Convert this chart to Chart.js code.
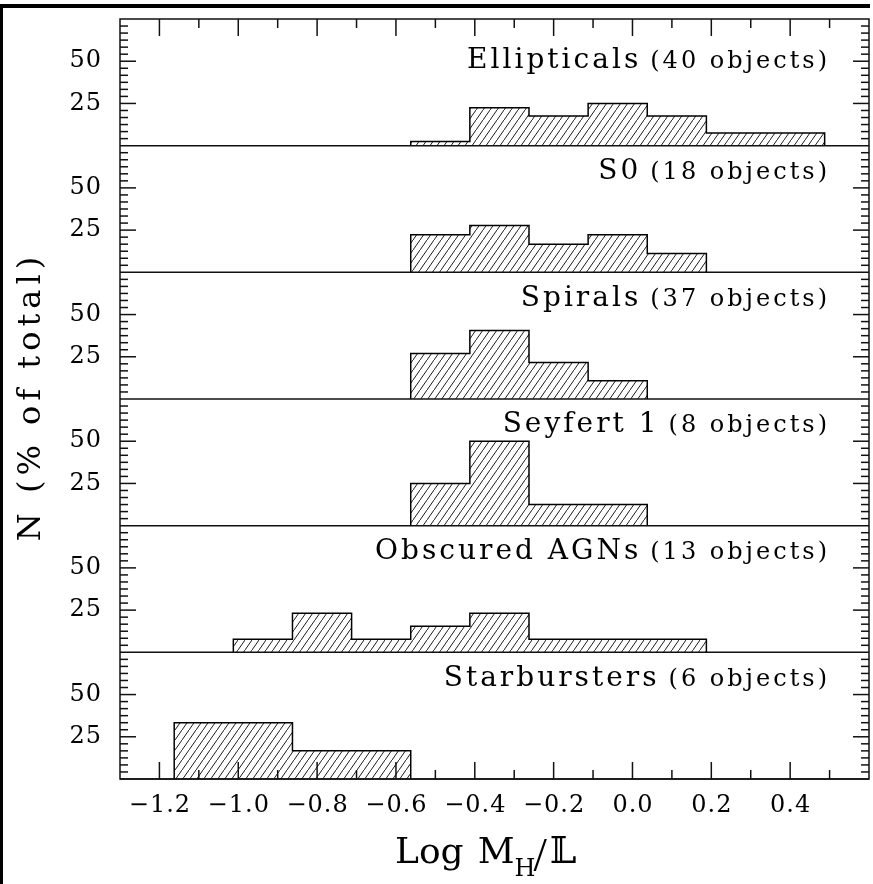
<!DOCTYPE html>
<html>
<head>
<meta charset="utf-8">
<title>M/L histograms</title>
<script src="https://cdn.jsdelivr.net/npm/chart.js@4.4.1/dist/chart.umd.min.js"></script>
<style>
  html, body { margin: 0; padding: 0; background: #fff; }
  canvas { display: block; }
</style>
</head>
<body>
<canvas id="chart-ml" width="873" height="884"></canvas>
<script>
//BIN EDGES IN LOG M_H/L (0.15 WIDE)
var binEdges = [-1.1625, -1.0125, -0.8625, -0.7125, -0.5625, -0.4125, -0.2625, -0.1125, 0.0375, 0.1875, 0.3375, 0.4875];

//PANELS, TOP TO BOTTOM
var panelNames = ["Ellipticals", "S0", "Spirals", "Seyfert 1", "Obscured AGNs", "Starbursters"];
var panelCounts = [40, 18, 37, 8, 13, 6];

//PERCENT OF EACH SAMPLE PER BIN
var ellipticals = [0, 0, 0, 0, 2.5, 22.5, 17.5, 25, 17.5, 7.5, 7.5];
var s0 = [0, 0, 0, 0, 22.2, 27.8, 16.7, 22.2, 11.1, 0, 0];
var spirals = [0, 0, 0, 0, 27.0, 40.5, 21.6, 10.8, 0, 0, 0];
var seyfert1 = [0, 0, 0, 0, 25, 50, 12.5, 12.5, 0, 0, 0];
var obscured = [0, 7.7, 23.1, 7.7, 15.4, 23.1, 7.7, 7.7, 7.7, 0, 0];
var starbursters = [33.3, 33.3, 16.7, 16.7, 0, 0, 0, 0, 0, 0, 0];

//TICKS
var xTickLabels = [-1.2, -1.0, -0.8, -0.6, -0.4, -0.2, 0.0, 0.2, 0.4];
var yTickLabels = [25, 50];

var panelData = [ellipticals, s0, spirals, seyfert1, obscured, starbursters];

//step outline of one histogram, from the first to the last filled bin
function outline(values) {
  var first = values.findIndex(function (v) { return v > 0; });
  var last = values.length - 1;
  while (values[last] <= 0) last--;
  var pts = [{ x: binEdges[first], y: 0 }];
  for (var i = first; i <= last; i++) {
    pts.push({ x: binEdges[i], y: values[i] });
    pts.push({ x: binEdges[i + 1], y: values[i] });
  }
  pts.push({ x: binEdges[last + 1], y: 0 });
  return pts;
}

//diagonal hatching for the bins
function makeHatch(ctx) {
  var w = 7, h = 10;
  var tile = document.createElement("canvas");
  tile.width = w;
  tile.height = h;
  var g = tile.getContext("2d");
  g.strokeStyle = "#1c1c1c";
  g.lineWidth = 1;
  [[0, 0], [-w, h], [w, -h]].forEach(function (o) {
    g.beginPath();
    g.moveTo(o[0], o[1] + h);
    g.lineTo(o[0] + w, o[1]);
    g.stroke();
  });
  return ctx.createPattern(tile, "repeat");
}

function fmtTick(v) {
  return (v < 0 ? "\u2212" : "") + Math.abs(v).toFixed(1);
}

//draws text with extra letter spacing, returns its width
function spaced(c, text, x, y, sp, align) {
  c.letterSpacing = "0px";
  var w = c.measureText(text).width + sp * (text.length - 1);
  var x0 = align === "right" ? x - w : align === "center" ? x - w / 2 : x;
  c.textAlign = "left";
  c.letterSpacing = sp + "px";
  c.fillText(text, x0, y);
  c.letterSpacing = "0px";
  return w;
}

//FRAME, TICKS AND LABELS (drawn over the bins)
var frameAxes = {
  id: "frameAxes",
  afterDatasetsDraw: function (chart) {
    var c = chart.ctx, a = chart.chartArea, xs = chart.scales.x;
    c.save();

    //figure border, top and left
    c.fillStyle = "#000";
    c.fillRect(0, 4, 870, 4);
    c.fillRect(0, 4, 3, 880);

    c.strokeStyle = "#111";
    c.lineWidth = 1.5;
    function seg(x1, y1, x2, y2) {
      c.beginPath();
      c.moveTo(x1, y1);
      c.lineTo(x2, y2);
      c.stroke();
    }
    c.strokeRect(a.left, a.top, a.right - a.left, a.bottom - a.top);

    //x ticks on the top and bottom edges
    xTickLabels.forEach(function (v) {
      var px = xs.getPixelForValue(v);
      seg(px, a.bottom, px, a.bottom - 17);
      seg(px, a.top, px, a.top + 17);
      var pm = xs.getPixelForValue(v + 0.1);
      seg(pm, a.bottom, pm, a.bottom - 9);
      seg(pm, a.top, pm, a.top + 9);
    });

    c.fillStyle = "#000";
    c.font = "24px 'DejaVu Serif'";
    c.textBaseline = "alphabetic";
    xTickLabels.forEach(function (v) {
      spaced(c, fmtTick(v), xs.getPixelForValue(v), a.bottom + 33, 1, "center");
    });

    //each panel: baseline, y ticks (six per 25), labels, title
    panelNames.forEach(function (name, p) {
      var ys = chart.scales["y" + p];
      seg(a.left, ys.getPixelForValue(0), a.right, ys.getPixelForValue(0));
      for (var k = 1; k < 18; k++) {
        var py = ys.getPixelForValue(k * 25 / 6);
        var len = k % 6 === 0 ? 16 : 8;
        seg(a.left, py, a.left + len, py);
        seg(a.right, py, a.right - len, py);
      }

      c.font = "24px 'DejaVu Serif'";
      c.textBaseline = "middle";
      yTickLabels.forEach(function (v) {
        spaced(c, String(v), a.left - 19, ys.getPixelForValue(v), 1, "right");
      });

      c.textBaseline = "alphabetic";
      var ty = p === 0 ? ys.getPixelForValue(50) + 7 : ys.getPixelForValue(50) - 9;
      c.font = "24px 'DejaVu Serif'";
      var w2 = spaced(c, "(" + panelCounts[p] + " objects)", a.right - 42, ty, 3, "right");
      c.font = "28px 'DejaVu Serif'";
      spaced(c, name, a.right - 42 - w2 - 12, ty, 3, "right");
    });

    //y title
    c.save();
    c.translate(40, (a.top + a.bottom) / 2);
    c.rotate(-Math.PI / 2);
    c.font = "32px 'DejaVu Serif'";
    c.textBaseline = "alphabetic";
    spaced(c, "N (% of total)", 0, 0, 5, "center");
    c.restore();

    //x title: Log M_H / L
    var by = 863, x = 395;
    c.font = "36px 'DejaVu Serif'";
    c.textAlign = "left";
    c.fillText("Log", x, by);
    x += c.measureText("Log").width + 14;
    c.fillText("M", x, by);
    x += c.measureText("M").width;
    c.font = "24px 'DejaVu Serif'";
    c.fillText("H", x, by + 13);
    x += c.measureText("H").width - 2;
    c.font = "48px 'Liberation Serif'";
    c.fillText("/", x, by + 8);
    x += c.measureText("/").width + 3;
    c.font = "38px 'DejaVu Serif', 'DejaVu Sans'";
    c.fillText("\uD835\uDD43", x, by);

    c.restore();
  },
};

/*************************CHART CONFIGURATION*******************/
var ctx = document.getElementById("chart-ml").getContext("2d");
var hatch = makeHatch(ctx);

//scales only map values; all axis drawing is done by frameAxes
var hidden = {
  ticks: { display: false },
  grid: { display: false, drawTicks: false },
  border: { display: false },
};
var scales = {
  x: Object.assign({ type: "linear", min: -1.3, max: 0.6 }, hidden),
};
//stacked left axes: the last one defined ends up on top
for (var p = panelNames.length - 1; p >= 0; p--) {
  scales["y" + p] = Object.assign({
    type: "linear", position: "left", stack: "panels", stackWeight: 1, min: 0, max: 75,
  }, hidden);
}

var datasets = panelData.map(function (vals, p) {
  return {
    label: panelNames[p],
    data: outline(vals),
    yAxisID: "y" + p,
    borderColor: "#000",
    borderWidth: 1.5,
    backgroundColor: hatch,
    fill: "origin",
    pointRadius: 0,
    tension: 0,
  };
});

var config = {
  type: "line",
  data: { datasets: datasets },
  options: {
    responsive: false,
    animation: false,
    events: [],
    layout: { padding: { left: 120, right: 4, top: 19, bottom: 105 } },
    plugins: { legend: { display: false }, tooltip: { enabled: false } },
    scales: scales,
  },
  plugins: [frameAxes],
};

new Chart(ctx, config);
</script>
</body>
</html>
